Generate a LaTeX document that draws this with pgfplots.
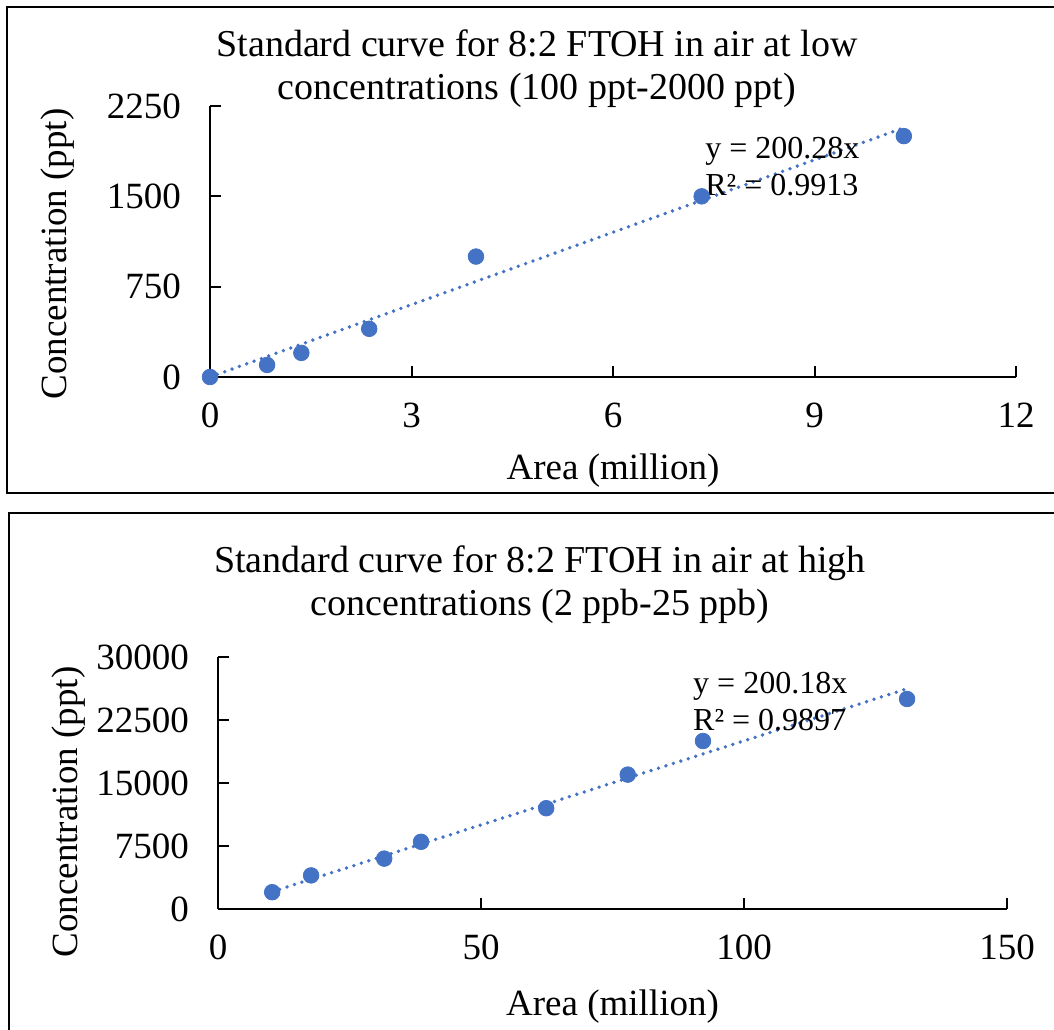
\documentclass[border=0pt]{standalone}
\usepackage{fontspec}
\setmainfont{Liberation Serif}
\usepackage{pgfplots}
\pgfplotsset{compat=1.18}
\definecolor{xlblue}{RGB}{68,114,196}

\newcommand{\titlefont}{\fontsize{19}{22}\selectfont}
\newcommand{\bigfont}{\fontsize{18.5}{21}\selectfont}
\newcommand{\eqfont}{\fontsize{16}{19}\selectfont}

\pgfplotsset{
  stdcurve/.style={
    scale only axis,
    axis lines=left,
    axis line style={-, line width=1pt},
    tick align=inside,
    major tick length=5.5pt,
    tick style={line width=1pt, black},
    xmin=0, ymin=0,
    clip=false,
    scaled ticks=false,
    /pgf/number format/assume math mode=true,
    /pgf/number format/1000 sep={},
    tick label style={font=\bigfont},
    yticklabel style={xshift=-11pt},
    xticklabel style={yshift=-9.5pt},
  },
  fitline/.style={xlblue, line width=1.9pt, line cap=round, dash pattern=on 0pt off 3.9pt},
  pts/.style={only marks, mark=*, mark size=3.9pt, mark options={draw=xlblue, fill=xlblue}},
}

\begin{document}
\begin{tikzpicture}[x=1pt, y=1pt]
\useasboundingbox (0,0) rectangle (527,514.5);

% panel frames
\draw[line width=1pt] (3.5,268) rectangle (540,511);
\draw[line width=1pt] (4.5,-10) rectangle (540,258);

% titles
\node[font=\titlefont, anchor=base] at (268.5,486) {Standard curve for 8:2 FTOH in air at low};
\node[font=\titlefont, anchor=base] at (268.5,464.5) {concentrations (100 ppt-2000 ppt)};
\node[font=\titlefont, anchor=base] at (270,228.5) {Standard curve for 8:2 FTOH in air at high};
\node[font=\titlefont, anchor=base] at (270,207) {concentrations (2 ppb-25 ppb)};

% low concentrations
\begin{axis}[stdcurve,
  at={(105pt,326pt)}, anchor=south west,
  width=403pt, height=135.5pt,
  xmax=12, ymax=2250,
  xtick={0,3,6,9,12},
  ytick={0,750,1500,2250},
]
  \addplot[pts] coordinates {
    (0,0) (0.85,100) (1.36,200) (2.37,400) (3.96,1000) (7.32,1500) (10.33,2000)
  };
  % trendline y = 200.28x
  \addplot[fitline] coordinates {(0,0) (10.33,2068.9)};
  \node[font=\eqfont, anchor=base west] at (axis cs:7.27,1818) {y = 200.28x};
  \node[font=\eqfont, anchor=base west] at (axis cs:7.27,1511) {R² = 0.9913};
  \node[font=\bigfont, anchor=base] at ([yshift=-51.5pt]rel axis cs:0.5,0) {Area (million)};
  \node[font=\bigfont, anchor=base, rotate=90] at ([xshift=-71.5pt]rel axis cs:0,0.454) {Concentration (ppt)};
\end{axis}

% high concentrations
\begin{axis}[stdcurve,
  at={(109pt,60pt)}, anchor=south west,
  width=394.5pt, height=126pt,
  xmax=150, ymax=30000,
  xtick={0,50,100,150},
  ytick={0,7500,15000,22500,30000},
]
  \addplot[pts] coordinates {
    (10.3,2000) (17.7,4000) (31.6,6000) (38.6,8000) (62.4,12000) (77.9,16000) (92.2,20000) (131,25000)
  };
  % trendline y = 200.18x
  \addplot[fitline] coordinates {(10.3,2061.9) (131,26223.6)};
  \node[font=\eqfont, anchor=base west] at (axis cs:89.0,25714) {y = 200.18x};
  \node[font=\eqfont, anchor=base west] at (axis cs:89.0,21310) {R² = 0.9897};
  \node[font=\bigfont, anchor=base] at ([yshift=-53pt]rel axis cs:0.5,0) {Area (million)};
  \node[font=\bigfont, anchor=base, rotate=90] at ([xshift=-70pt]rel axis cs:0,0.385) {Concentration (ppt)};
\end{axis}
\end{tikzpicture}
\end{document}
